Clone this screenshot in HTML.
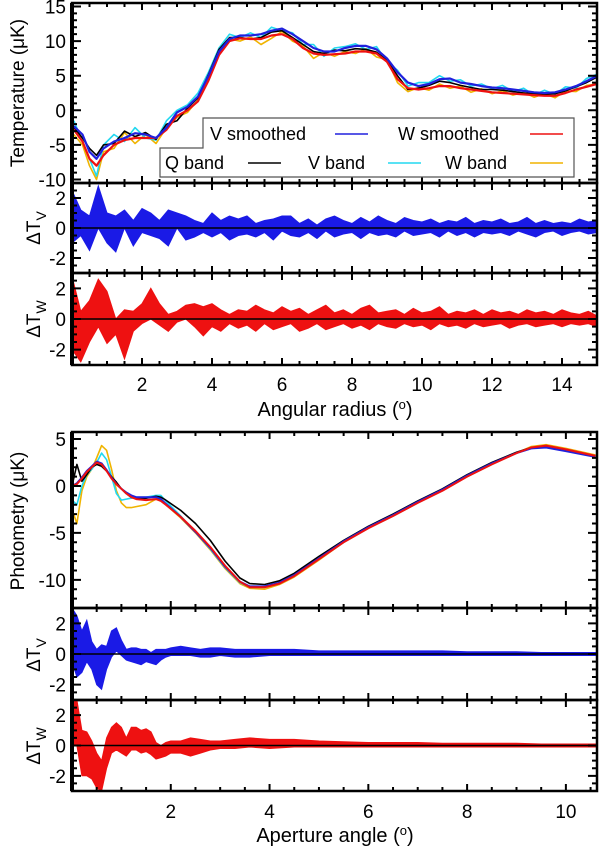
<!DOCTYPE html>
<html><head><meta charset="utf-8"><style>
html,body{margin:0;padding:0;background:#fff;}
svg{display:block;font-family:"Liberation Sans",sans-serif;}
</style></head><body>
<svg id="fig" width="600" height="848" viewBox="0 0 600 848"></svg>
<script>
// ---------- Top chart data (Angular radius) ----------
const tX=[0.05,0.3,0.5,0.7,0.9,1.2,1.5,1.8,2.1,2.4,2.7,3.0,3.3,3.6,3.9,4.2,4.5,4.8,5.1,5.4,5.7,6.0,6.3,6.6,6.9,7.2,7.5,7.8,8.1,8.4,8.7,9.0,9.3,9.6,9.9,10.2,10.5,10.8,11.1,11.4,11.7,12.0,12.3,12.6,12.9,13.2,13.5,13.8,14.1,14.4,14.7,15];
const tVs=[-2.3,-3.5,-6,-7,-5.5,-4.5,-4,-3.3,-3.5,-4,-2.5,-0.3,0.5,2,5,8.5,10.3,10.8,10.8,11,11.5,11.8,11,10,9,8.5,8.5,9,9.3,9.3,8.8,7.5,5.5,4,3.5,3.8,4.5,4.6,4,3.8,3.5,3.3,3.2,3,2.8,2.6,2.5,2.6,3,3.5,4.2,5];
const tWs=[-2.8,-4.5,-7,-8,-6.5,-5,-4.3,-4,-4,-4,-2.8,-0.8,0,1.3,4.3,8,10,10.4,10.3,10.3,10.8,11,10.3,9,8.2,8,8.1,8.2,8.5,8.5,8.2,7,4.5,3.2,3,3.2,3.5,3.5,3.2,3,2.8,2.6,2.5,2.4,2.3,2.2,2.1,2.1,2.5,3,3.4,3.8];
const tQ=[-2.5,-4,-5.5,-6.5,-5,-4.8,-3,-3.8,-3.2,-4.2,-2,-1.5,0.3,1.8,5.2,8.8,10.5,10.5,10.3,10.5,11.3,11.5,10.5,9.5,8.5,8.2,8.7,8.6,8.9,8.8,8.4,7.2,5,3,3.2,3.6,4.2,4,3.6,3.3,3,3,2.9,2.7,2.5,2.4,2.3,2.4,2.8,3.4,4,4.8];
const tV=[-1.5,-4.5,-7,-9.5,-5,-3.5,-4.5,-2.5,-4,-4.3,-1.5,0,0.8,2.5,5.5,9,11,10.5,11.2,10.5,12,11.5,11.2,9.5,9.5,7.8,9,9.2,9.6,8.8,9.2,7,5.8,3.5,4,4,5,4.2,4.4,3.5,3.8,3.1,3.6,2.7,3.2,2.2,2.9,2.3,3.4,3.2,4.6,5.2];
const tW=[-3.5,-5,-8,-10,-6,-5.5,-3.2,-4.8,-3.5,-4.8,-2.5,-1,-0.3,1.5,4.5,8.2,10.3,10,10.6,9.5,10.4,11.4,10,9.3,7.5,8.4,7.8,8.5,8.2,8.9,7.7,7.3,4,2.7,3.3,2.9,3.8,3.2,3.5,2.6,3.1,2.4,2.8,2.2,2.6,1.9,2.4,1.8,2.8,2.7,3.6,3.8];
// residuals, top chart
const rtX=[];for(let i=0;i<=60;i++)rtX.push(i*0.25);
const rtVhi=[2.5,1.2,0.8,2.8,1,0.8,1.2,0.5,1.3,1,0.5,1.2,1,0.8,0.5,0.3,1,0.5,0.8,0.6,0.8,0.3,0.5,0.6,0.8,0.8,0.3,0.6,0.2,0.6,0.8,0.5,0.3,0.7,0.4,0.8,0.5,0.3,0.7,0.5,0.4,0.6,0.3,0.5,0.4,0.7,0.3,0.5,0.4,0.6,0.3,0.4,0.7,0.3,0.5,0.3,0.4,0.3,0.6,0.4,0.5];
const rtVlo=[-1,-0.5,-1.5,0,-1,-1.6,0,-1.2,-0.3,-0.5,-0.7,-1.2,0,-0.8,-0.6,-0.3,-0.6,-0.3,-0.8,-0.5,-0.4,-0.6,-0.3,-0.8,-0.2,-0.5,-0.6,-0.3,-0.7,-0.2,-0.6,-0.4,-0.3,-0.7,-0.3,-0.5,-0.4,-0.6,-0.2,-0.5,-0.4,-0.3,-0.6,-0.2,-0.5,-0.3,-0.6,-0.3,-0.4,-0.3,-0.5,-0.2,-0.4,-0.6,-0.3,-0.2,-0.5,-0.3,-0.2,-0.4,-0.3];
const rtWhi=[2.8,0.5,1.2,2.6,1.8,0,0.6,0.5,1,2,1,0.3,0.5,0.9,1,0.8,1,0.6,0.3,0.6,0.5,0.9,0.6,0.4,0.8,0.5,0.7,0.3,0.6,0.9,0.4,0.6,0.3,0.7,0.9,0.4,0.5,0.6,0.3,0.7,0.4,0.5,0.8,0.3,0.5,0.4,0.6,0.3,0.6,0.4,0.5,0.3,0.6,0.4,0.5,0.3,0.6,0.4,0.3,0.5,0.2];
const rtWlo=[-2,-2.8,-1.5,-0.5,-1.6,-1,-2.6,-0.8,-0.3,0,-0.4,-0.8,-0.2,0,-0.5,-1.1,-0.5,-0.8,-0.3,-0.6,-0.4,-0.8,-0.3,-0.7,-0.5,-0.3,-0.8,-0.6,-0.3,-0.7,-0.5,-0.3,-0.6,-0.4,-0.7,-0.3,-0.5,-0.6,-0.3,-0.5,-0.4,-0.7,-0.3,-0.5,-0.4,-0.6,-0.3,-0.5,-0.4,-0.3,-0.6,-0.4,-0.3,-0.5,-0.4,-0.3,-0.5,-0.3,-0.4,-0.3,-0.5];
// ---------- Bottom chart data (Aperture angle) ----------
const bX=[0,0.1,0.2,0.3,0.4,0.5,0.6,0.7,0.8,0.9,1.0,1.1,1.2,1.3,1.5,1.7,1.8,1.9,2.2,2.5,2.8,3.1,3.4,3.6,3.9,4.2,4.5,5,5.5,6,6.5,7,7.5,8,8.5,9,9.3,9.6,10,10.6];
const bWs=[0,0.2,0.8,1.5,2,2.5,2.3,1.6,0.8,0.2,-0.3,-0.8,-1.2,-1.4,-1.5,-1.4,-1.6,-2,-3.3,-4.8,-6.5,-8.5,-10.2,-10.8,-10.8,-10.4,-9.6,-7.8,-6,-4.5,-3.2,-1.8,-0.5,1,2.3,3.5,4.1,4.3,3.9,3.2];
const bVs=[0,0.3,0.9,1.6,2.1,2.6,2.4,1.7,0.9,0.2,-0.3,-0.7,-1,-1.2,-1.2,-1.2,-1.4,-1.9,-3.3,-4.9,-6.6,-8.6,-10.2,-10.7,-10.7,-10.3,-9.5,-7.7,-5.9,-4.4,-3.1,-1.7,-0.4,1.1,2.4,3.5,4,4.1,3.7,3.1];
const bQ=[0,2.3,0.5,1.2,2,2.3,2.1,1.6,1,0.4,-0.3,-0.8,-1.2,-1.3,-1.3,-1.1,-1.2,-1.5,-2.6,-4,-5.8,-8,-9.8,-10.4,-10.5,-10.1,-9.3,-7.5,-5.8,-4.3,-3,-1.6,-0.3,1.2,2.5,3.6,4.1,4.2,3.8,3.2];
const bV=[-1.5,-2,0,1.2,1.8,2.5,3.5,2.8,1,-0.8,-1.5,-1.4,-1.3,-1.2,-1.2,-1,-1,-1.6,-3.2,-4.9,-6.7,-8.7,-10.3,-10.8,-10.8,-10.4,-9.6,-7.8,-6,-4.5,-3.2,-1.8,-0.5,1,2.3,3.5,4,4.2,3.8,3.1];
const bW=[-2.5,-4,-0.5,1,1.8,3,4.3,3.8,1.8,-0.5,-1.8,-2.3,-2.3,-2.2,-2,-1.4,-1.4,-2,-3.4,-5,-6.8,-8.8,-10.4,-10.9,-11,-10.5,-9.7,-7.9,-6,-4.5,-3.2,-1.8,-0.5,1,2.3,3.5,4.2,4.4,4,3.3];
const rbX=[0,0.1,0.2,0.3,0.4,0.5,0.6,0.7,0.8,0.9,1.0,1.1,1.2,1.3,1.4,1.5,1.6,1.7,1.8,1.9,2.0,2.2,2.4,2.6,2.8,3.0,3.3,3.6,4,4.5,5,5.5,6,6.5,7,7.5,8,8.5,9,9.5,10,10.6];
const rbVhi=[3,2.5,1.5,2.2,0.8,0.3,0.6,0.5,1.5,1.7,0.9,0.3,0.4,0.4,0.3,0.3,0.1,0.3,0.3,0.3,0.4,0.5,0.4,0.3,0.4,0.4,0.3,0.3,0.3,0.3,0.2,0.2,0.2,0.2,0.2,0.2,0.15,0.15,0.15,0.1,0.1,0.1];
const rbVlo=[-0.5,-1.5,-1.2,-0.5,-1,-2,-2.3,-1,-0.2,0.2,-0.1,-0.4,-0.5,-0.6,-0.7,-0.5,-0.6,-0.7,-0.4,-0.2,-0.1,-0.1,-0.1,-0.2,-0.2,-0.1,-0.2,-0.2,-0.1,-0.1,-0.1,-0.1,-0.1,-0.1,-0.1,-0.1,-0.1,-0.1,-0.1,-0.1,-0.1,-0.1];
const rbWhi=[3,3,1,0.9,0.3,-0.5,-1,0.5,1.2,1.5,1.2,0.5,1.2,1.2,1,1.1,0.9,0.2,0,0.2,0.3,0.3,0.5,0.4,0.3,0.3,0.4,0.5,0.4,0.4,0.3,0.25,0.2,0.2,0.2,0.15,0.15,0.15,0.15,0.1,0.1,0.1];
const rbWlo=[0,0,-2,-2,-2.2,-2.8,-3,-1.5,-0.5,-0.3,-0.5,-0.7,-0.3,-0.3,-0.5,-0.4,-0.6,-0.9,-0.8,-0.7,-0.5,-0.5,-0.7,-0.5,-0.3,-0.2,-0.2,-0.1,-0.2,-0.1,-0.1,-0.1,-0.1,-0.1,-0.1,-0.1,-0.1,-0.1,-0.1,-0.1,-0.1,-0.1];

const NS="http://www.w3.org/2000/svg";
const svg=document.getElementById('fig');
function el(tag,attrs,parent){const e=document.createElementNS(NS,tag);for(const k in attrs)e.setAttribute(k,attrs[k]);(parent||svg).appendChild(e);return e;}
const L=72,R=597;
let clipN=0;
function panel(name,top,bot,xmin,xmax,ymin,ymax,yMajor,yMinor,xMajor,xMinor,yTicks){
  const g=el('g',{});
  
  
  const id='clip'+(clipN++);
  const c=el('clipPath',{id},g);el('rect',{x:L,y:top,width:R-L,height:bot-top},c);
  const m=el('g',{'clip-path':`url(#${id})`},g);
  
  
  const sx=x=>L+(x-xmin)/(xmax-xmin)*(R-L);
  const sy=y=>bot-(y-ymin)/(ymax-ymin)*(bot-top);
  return {g,m,sx,sy,top,bot,xmin,xmax,ymin,ymax,yMajor,yMinor,xMajor,xMinor,yTicks};
}
function frame(p){
  const fg=el('g',{},p.g);
  
  
  let d='';
  for(let x=Math.ceil(p.xmin/p.xMinor)*p.xMinor;x<p.xmax;x+=p.xMinor){
    const maj=Math.abs(x/p.xMajor-Math.round(x/p.xMajor))<1e-6;const len=maj?7:4;const px=p.sx(x);
    d+=`M${px},${p.bot}v${-len}M${px},${p.top}v${len}`;
  }
  for(let y=Math.ceil(p.ymin/p.yMinor)*p.yMinor;y<=p.ymax+1e-9;y+=p.yMinor){
    const maj=Math.abs(y/p.yMajor-Math.round(y/p.yMajor))<1e-6;const len=maj?9:5;const py=p.sy(y);
    d+=`M${L},${py}h${len}M${R},${py}h${-len}`;
  }
  el('path',{d,stroke:'#000','stroke-width':2,fill:'none'},fg);
  el('rect',{x:L,y:p.top,width:R-L,height:p.bot-p.top,fill:'none',stroke:'#000','stroke-width':2.5},fg);
  el('line',{x1:L,y1:p.top,x2:L,y2:p.bot,stroke:'#000','stroke-width':4},fg);
  for(const y of p.yTicks){
    const t=el('text',{x:L-6,y:p.sy(y)+7,'text-anchor':'end','font-size':19},fg);
    t.textContent=String(y);
    
    
  }
}
function line(p,xs,ys,color,w,name){
  const n=Math.min(xs.length,ys.length);let d='';
  for(let i=0;i<n;i++)d+=(i?'L':'M')+p.sx(xs[i]).toFixed(1)+','+p.sy(ys[i]).toFixed(1);
  const e=el('path',{d,stroke:color,'stroke-width':w,fill:'none','stroke-linejoin':'round'},p.m);
  
  
}
function band(p,xs,hi,lo,color,name){
  const n=Math.min(xs.length,hi.length,lo.length);let d='';
  for(let i=0;i<n;i++)d+=(i?'L':'M')+p.sx(xs[i]).toFixed(1)+','+p.sy(Math.min(p.ymax,hi[i])).toFixed(1);
  for(let i=n-1;i>=0;i--)d+='L'+p.sx(xs[i]).toFixed(1)+','+p.sy(Math.max(p.ymin,lo[i])).toFixed(1);
  const e=el('path',{d:d+'Z',fill:color,stroke:color,'stroke-width':1},p.m);
  
  
  const z=el('line',{x1:L,x2:R,y1:p.sy(0),y2:p.sy(0),stroke:'#000','stroke-width':1.5},p.m);
  
  
}
function ylab(x,y,html,name){
  const t=el('text',{x:0,y:0,transform:`translate(${x},${y}) rotate(-90)`,'text-anchor':'middle','font-size':19});
  t.innerHTML=html;
  
  
}
function xtick(p,vals,y){
  for(const v of vals){const t=el('text',{x:p.sx(v),y,'text-anchor':'middle','font-size':19});t.textContent=v;
    
    }
}

// ---- top chart ----
const p1=panel('temperature-panel',3,183,0,15,-10.5,15.5,5,1,2,0.5,[15,10,5,0,-5,-10]);
line(p1,tX,tW,'#f0b400',1.6,'w-band-line');
line(p1,tX,tV,'#22d8f0',1.6,'v-band-line');
line(p1,tX,tQ,'#000',1.6,'q-band-line');
line(p1,tX,tWs,'#ee1111',2.2,'w-smoothed-line');
line(p1,tX,tVs,'#2020dd',2.2,'v-smoothed-line');
frame(p1);
const p2=panel('delta-tv-panel',183,273,0,15,-3,3,2,0.5,2,0.5,[2,0,-2]);
band(p2,rtX,rtVhi,rtVlo,'#1a1ae6','delta-tv-band');frame(p2);
const p3=panel('delta-tw-panel',273,365,0,15,-3,3,2,0.5,2,0.5,[2,0,-2]);
band(p3,rtX,rtWhi,rtWlo,'#ee1111','delta-tw-band');frame(p3);
xtick(p3,[2,4,6,8,10,12,14],391);
ylab(24,93,'Temperature (μK)','y-axis-title-temperature');
ylab(40,228,'ΔT<tspan dy="6" font-size="14">V</tspan>','y-axis-title-delta-tv');
ylab(40,319,'ΔT<tspan dy="6" font-size="14">W</tspan>','y-axis-title-delta-tw');
{const t=el('text',{x:335,y:416,'text-anchor':'middle','font-size':20});t.innerHTML='Angular radius (<tspan dy="-7" font-size="13">o</tspan><tspan dy="7">)</tspan>';

}

// legend
{const lg=el('g',{});


el('path',{d:'M203,118H574V177H160V148H203Z',fill:'#fff',stroke:'#555','stroke-width':1.2},lg);
const items=[['V smoothed',210,140,'#2020dd',335],['W smoothed',398,140,'#ee1111',530],['Q band',165,169,'#000',248],['V band',308,169,'#22d8f0',388],['W band',445,169,'#f0b400',530]];
for(const it of items){const t=el('text',{x:it[1],y:it[2],'font-size':18},lg);t.textContent=it[0];


el('line',{x1:it[4],x2:it[4]+33,y1:it[2]-6,y2:it[2]-6,stroke:it[3],'stroke-width':1.6},lg);}
}

// ---- bottom chart ----
const p4=panel('photometry-panel',432,608,0,10.63,-13,5.75,5,1,2,0.5,[5,0,-5,-10]);
line(p4,bX,bW,'#f0b400',1.6,'w-band-line');
line(p4,bX,bV,'#22d8f0',1.6,'v-band-line');
line(p4,bX,bQ,'#000',1.6,'q-band-line');
line(p4,bX,bVs,'#2020dd',2,'v-smoothed-line');
line(p4,bX,bWs,'#ee1111',2,'w-smoothed-line');
frame(p4);
const p5=panel('aperture-delta-tv-panel',608,700,0,10.63,-3,3,2,0.5,2,0.5,[2,0,-2]);
band(p5,rbX,rbVhi,rbVlo,'#1a1ae6','aperture-delta-tv-band');frame(p5);
const p6=panel('aperture-delta-tw-panel',700,791,0,10.63,-3,3,2,0.5,2,0.5,[2,0,-2]);
band(p6,rbX,rbWhi,rbWlo,'#ee1111','aperture-delta-tw-band');frame(p6);
xtick(p6,[2,4,6,8,10],818);
ylab(24,521,'Photometry (μK)','y-axis-title-photometry');
ylab(40,655,'ΔT<tspan dy="6" font-size="14">V</tspan>','y-axis-title-aperture-delta-tv');
ylab(40,746,'ΔT<tspan dy="6" font-size="14">W</tspan>','y-axis-title-aperture-delta-tw');
{const t=el('text',{x:335,y:842,'text-anchor':'middle','font-size':20});t.innerHTML='Aperture angle (<tspan dy="-7" font-size="13">o</tspan><tspan dy="7">)</tspan>';

}
</script>
</body></html>
